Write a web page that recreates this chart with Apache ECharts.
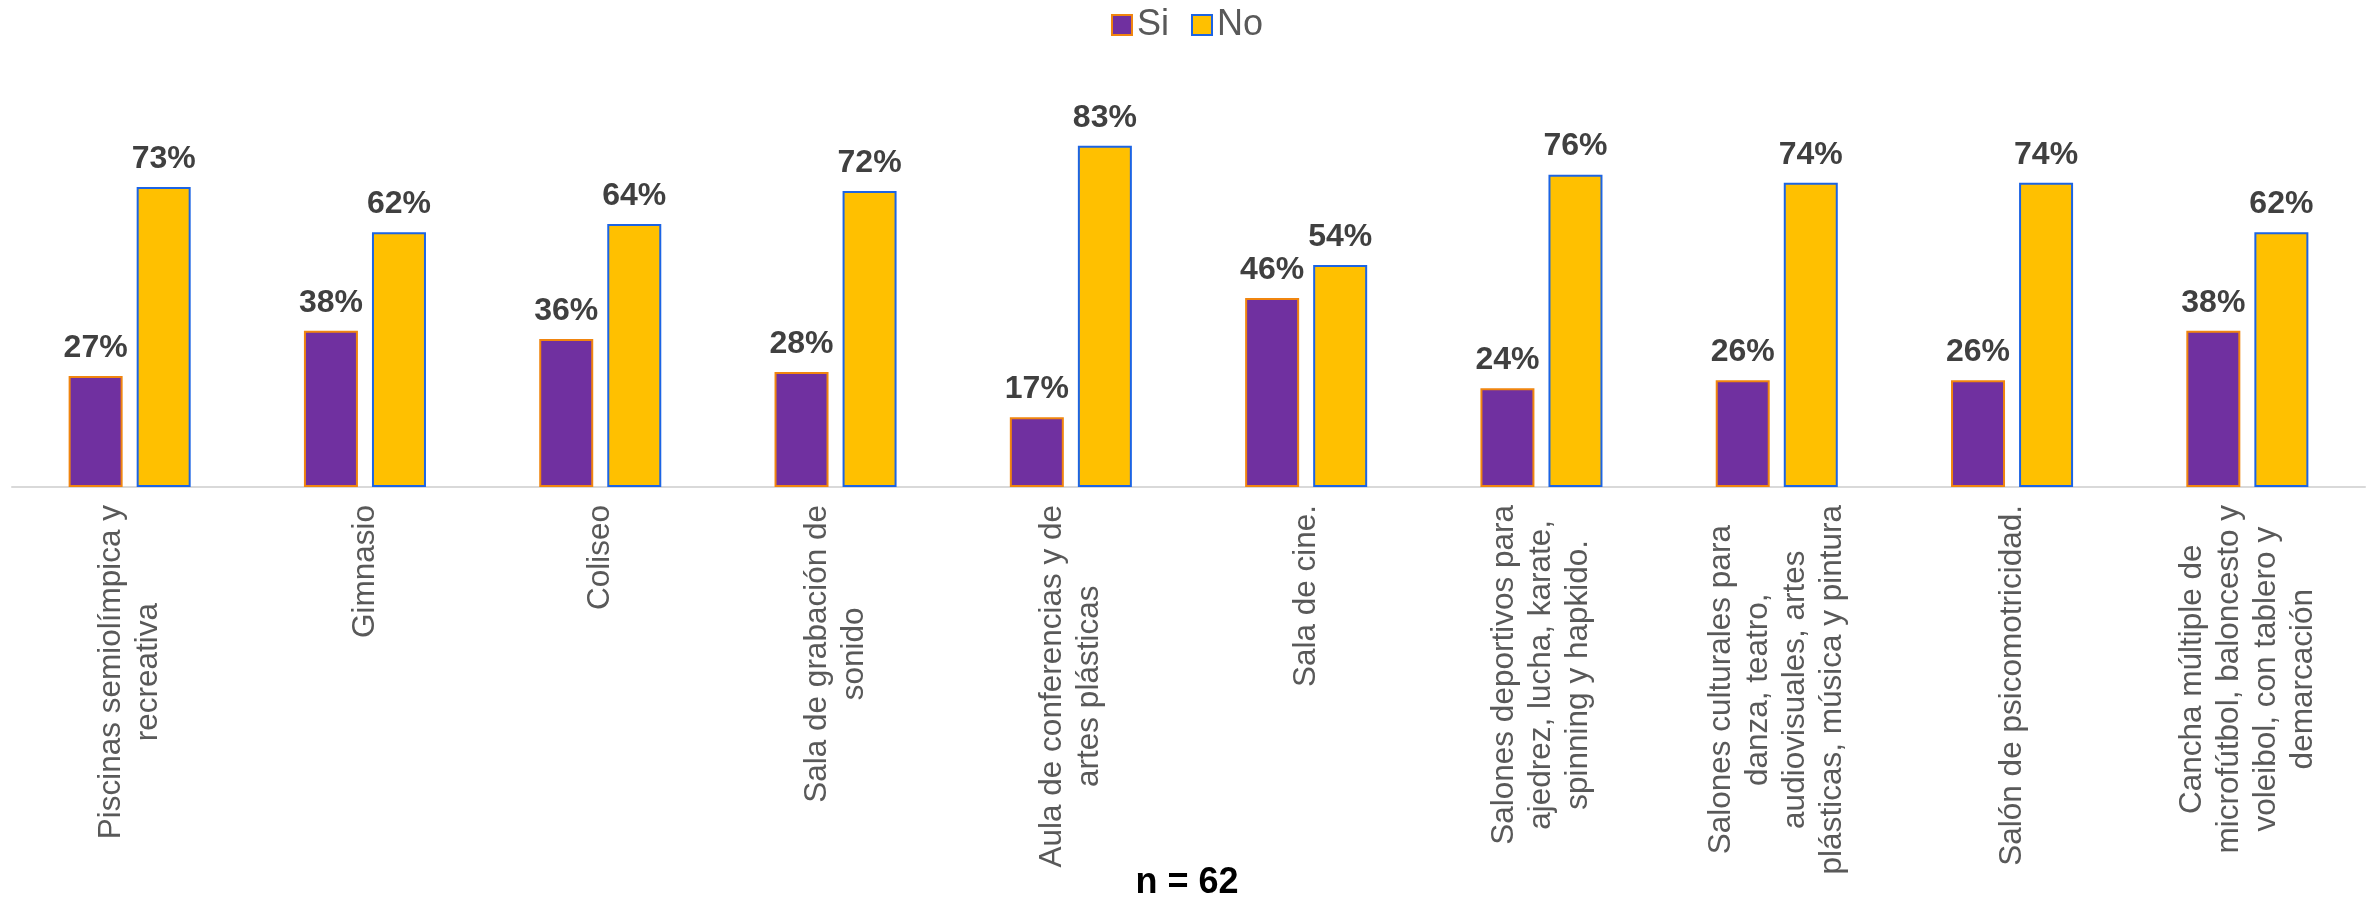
<!DOCTYPE html>
<html>
<head>
<meta charset="utf-8">
<title>Espacios</title>
<script src="https://cdn.jsdelivr.net/npm/echarts@6/dist/echarts.min.js"></script>
<style>
	html, body { margin: 0; padding: 0; background: #fff; }
	#chart { width: 2374px; height: 900px; }
</style>
</head>
<body>
<div id="chart"></div>
<script>
	// categorias (con saltos de linea como en el original)
	var categorias = [
		'Piscinas semiolímpica y\nrecreativa',
		'Gimnasio',
		'Coliseo',
		'Sala de grabación de\nsonido',
		'Aula de conferencias y de\nartes plásticas',
		'Sala de cine.',
		'Salones deportivos para\najedrez, lucha, karate,\nspinning y hapkido.',
		'Salones culturales para\ndanza, teatro,\naudiovisuales, artes\nplásticas, música y pintura',
		'Salón de psicomotricidad.',
		'Cancha múltiple de\nmicrofútbol, baloncesto y\nvoleibol, con tablero y\ndemarcación'
	];
	var si = [27, 38, 36, 28, 17, 46, 24, 26, 26, 38];
	var no = [73, 62, 64, 72, 83, 54, 76, 74, 74, 62];

	var fuente = '"Liberation Sans", Arial, sans-serif';
	var myChart = echarts.init(document.getElementById('chart'));

	var etiqueta = {
		show: true,
		position: 'top',
		distance: 12,
		formatter: '{c}%',
		color: '#404040',
		fontSize: 32,
		fontWeight: 'bold',
		fontFamily: fuente
	};

	option = {
		animation: false,
		backgroundColor: '#fff',
		title: {
			text: 'n = 62',
			left: 'center',
			top: 865,
			padding: 0,
			textStyle: { color: '#000', fontSize: 36, fontWeight: 'bold', fontFamily: fuente }
		},
		legend: {
			data: ['Si', 'No'],
			top: 2,
			left: 'center',
			itemWidth: 20,
			itemHeight: 20,
			itemGap: 22,
			icon: 'rect',
			textStyle: { color: '#595959', fontSize: 36, fontFamily: fuente }
		},
		grid: {
			left: 12,
			right: 9,
			top: 76,
			bottom: 413,
			containLabel: false,
			outerBoundsMode: 'none'
		},
		xAxis: [{
			type: 'category',
			data: categorias,
			axisLine: { show: true, lineStyle: { color: '#D9D9D9', width: 2 } },
			axisTick: { show: false },
			axisLabel: {
				interval: 0,
				rotate: 90,
				margin: 18,
				color: '#595959',
				fontSize: 31.5,
				fontFamily: fuente,
				lineHeight: 37,
				formatter: function (v) {
					return v.split('\n').map(function (l) { return '{c|' + l + '}'; }).join('\n');
				},
				rich: {
					c: { align: 'center', color: '#595959', fontSize: 31.5, fontFamily: fuente, lineHeight: 37 }
				}
			}
		}],
		yAxis: [{
			type: 'value',
			min: 0,
			max: 100,
			show: false,
			splitLine: { show: false }
		}],
		series: [
			{
				name: 'Si',
				type: 'bar',
				data: si,
				barWidth: 54,
				barGap: '26%',
				itemStyle: { color: '#7030A0', borderColor: '#F0850F', borderWidth: 2 },
				label: etiqueta
			},
			{
				name: 'No',
				type: 'bar',
				data: no,
				barWidth: 54,
				barGap: '26%',
				itemStyle: { color: '#FFC000', borderColor: '#1C64E4', borderWidth: 2 },
				label: etiqueta
			}
		]
	};

	myChart.setOption(option);
</script>
</body>
</html>
